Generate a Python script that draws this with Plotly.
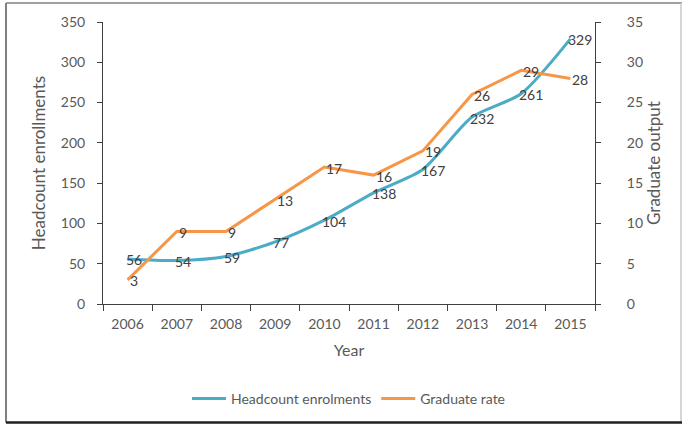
import plotly.graph_objects as go

years = ["2006", "2007", "2008", "2009", "2010", "2011", "2012", "2013", "2014", "2015"]
headcount = [56, 54, 59, 77, 104, 138, 167, 232, 261, 329]
graduates = [3, 9, 9, 13, 17, 16, 19, 26, 29, 28]

blue = "#4BACC6"
orange = "#F79646"
text_col = "#595959"
label_col = "#404040"
axis_col = "#404040"
font_family = "Lato, sans-serif"

fig = go.Figure()

fig.add_trace(go.Scatter(
    x=years, y=headcount, name="Headcount enrolments",
    mode="lines", line=dict(color=blue, width=3, shape="spline", smoothing=0.7),
    yaxis="y",
))

fig.add_trace(go.Scatter(
    x=years, y=graduates, name="Graduate rate",
    mode="lines", line=dict(color=orange, width=3),
    yaxis="y2",
))

# Value labels sit just right of each point, centred on the line
for i, v in enumerate(headcount):
    fig.add_annotation(x=i, y=v, xref="x", yref="y", text=str(v), showarrow=False,
                       xanchor="left", yanchor="middle", xshift=-4, yshift=-1,
                       font=dict(size=14, color=label_col, family=font_family))
for i, v in enumerate(graduates):
    fig.add_annotation(x=i, y=v, xref="x", yref="y2", text=str(v), showarrow=False,
                       xanchor="left", yanchor="middle", xshift=0, yshift=-1,
                       font=dict(size=14, color=label_col, family=font_family))

L, R, T, B = 103, 88, 22, 121
W, H = 683, 426
pw = W - L - R
ph = H - T - B

def px(x):
    return (x - L) / pw

def py(y):
    return (H - B - y) / ph

fig.update_layout(
    width=W, height=H,
    margin=dict(l=L, r=R, t=T, b=B),
    paper_bgcolor="white", plot_bgcolor="white",
    font=dict(family=font_family, size=14, color=text_col),
    showlegend=True,
    legend=dict(orientation="h", x=0.5, xanchor="center", y=py(399), yanchor="middle",
                font=dict(size=14, color=text_col), itemwidth=34),
    xaxis=dict(
        type="category", showgrid=False, zeroline=False,
        showline=True, linecolor=axis_col, linewidth=1,
        ticks="outside", ticklen=6, tickcolor=axis_col, tickson="boundaries",
        tickfont=dict(size=14, color=text_col), ticklabelstandoff=7,
        title=dict(text="Year", standoff=14, font=dict(size=16, color=text_col)),
        range=[-0.5, 9.5],
    ),
    yaxis=dict(
        range=[0, 350], dtick=50, showgrid=False, zeroline=False,
        showline=True, linecolor=axis_col, linewidth=1,
        ticks="outside", ticklen=5, tickcolor=axis_col,
        tickfont=dict(size=14, color=text_col), ticklabelstandoff=9,
        title=dict(text="Headcount enrollments", standoff=10, font=dict(size=17, color=text_col)),
    ),
    yaxis2=dict(
        range=[0, 35], dtick=5, overlaying="y", side="right",
        showgrid=False, zeroline=False,
        showline=True, linecolor=axis_col, linewidth=1,
        ticks="outside", ticklen=5, tickcolor=axis_col,
        tickfont=dict(size=14, color=text_col), ticklabelstandoff=23,
        title=dict(text="Graduate output", standoff=6, font=dict(size=17, color=text_col)),
    ),
)

# Outer frame around the chart area
fig.add_shape(type="line", xref="paper", yref="paper",
              x0=px(6), x1=px(6), y0=py(3), y1=py(424),
              line=dict(color="#808080", width=2))
fig.add_shape(type="line", xref="paper", yref="paper",
              x0=px(6), x1=px(682), y0=py(3), y1=py(3),
              line=dict(color="#808080", width=1.5))
fig.add_shape(type="line", xref="paper", yref="paper",
              x0=px(681), x1=px(681), y0=py(3), y1=py(424),
              line=dict(color="#C8C8C8", width=1.5))
fig.add_shape(type="line", xref="paper", yref="paper",
              x0=px(6), x1=px(682), y0=py(424), y1=py(424),
              line=dict(color="#202020", width=2.5))

fig.write_html("out.html")
